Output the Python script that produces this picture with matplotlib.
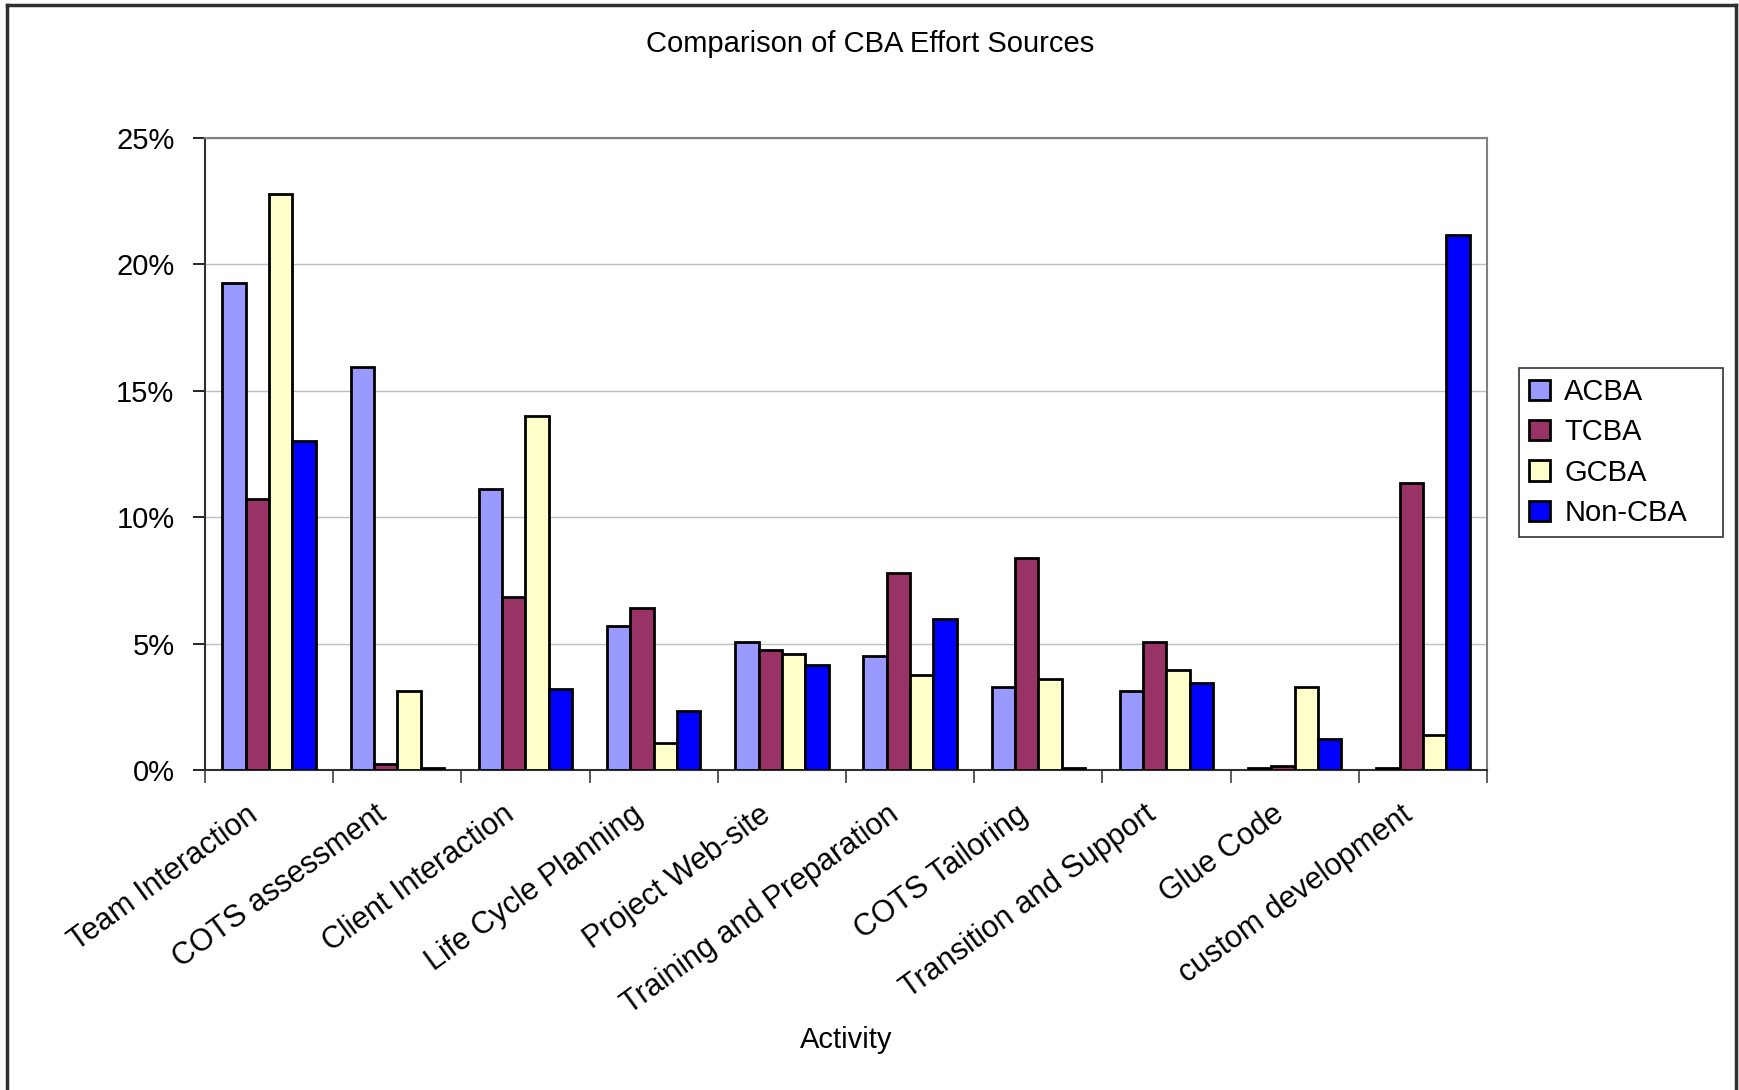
import numpy as np
import matplotlib
matplotlib.use("Agg")
import matplotlib.pyplot as plt
from matplotlib.lines import Line2D
from matplotlib.ticker import FuncFormatter
from matplotlib.transforms import ScaledTranslation

plt.rcParams["font.family"] = ["Liberation Sans", "DejaVu Sans"]

# ---------------------------------
# Effort share per activity (%)
# ---------------------------------
activities = [
    "Team Interaction", "COTS assessment", "Client Interaction",
    "Life Cycle Planning", "Project Web-site", "Training and Preparation",
    "COTS Tailoring", "Transition and Support", "Glue Code",
    "custom development",
]
acba = [19.25, 15.93, 11.13, 5.68, 5.08, 4.51, 3.29, 3.12, 0.08, 0.08]
tcba = [10.72, 0.22, 6.83, 6.42, 4.76, 7.79, 8.37, 5.08, 0.16, 11.36]
gcba = [22.78, 3.12, 14.02, 1.06, 4.59, 3.76, 3.61, 3.94, 3.29, 1.39]
noncba = [13.02, 0.08, 3.20, 2.34, 4.17, 5.99, 0.08, 3.43, 1.22, 21.18]

series = ["ACBA", "TCBA", "GCBA", "Non-CBA"]
colors = ["#9999FF", "#993366", "#FFFFCC", "#0000FF"]

fig = plt.figure(figsize=(17.4, 10.9), dpi=100)
ax = fig.add_axes([0.1178, 0.2936, 0.7368, 0.5798])

x = np.arange(len(activities))
width = 1 / 5.5  # 150% gap between groups
for j, (name, vals, col) in enumerate(zip(series, [acba, tcba, gcba, noncba], colors)):
    ax.bar(x + (j - 1.5) * width, vals, width, color=col, edgecolor="black",
           linewidth=2.0, label=name, zorder=3)

ax.set_xlim(-0.5, len(activities) - 0.5)
ax.set_ylim(0, 25)
ax.set_yticks(np.arange(0, 26, 5))
ax.yaxis.set_major_formatter(FuncFormatter(lambda v, p: f"{v:.0f}%"))
ax.grid(axis="y", color="#BFBFBF", linewidth=1.0, zorder=0)
ax.tick_params(axis="y", length=9, width=1.2, pad=13, labelsize=21, colors="black")

# category boundaries get the tick marks, labels sit at group centres
ax.set_xticks(np.arange(-0.5, len(activities)), minor=True)
ax.tick_params(axis="x", which="minor", length=9, width=1.2, color="#404040")
ax.set_xticks(x)
ax.set_xticklabels(activities, rotation=36, ha="right", va="center",
                   rotation_mode="anchor", fontsize=22)
ax.tick_params(axis="x", which="major", length=0, pad=30)
shift = ScaledTranslation(-0.14, 0, fig.dpi_scale_trans)
for lbl in ax.get_xticklabels():
    lbl.set_transform(lbl.get_transform() + shift)

for side in ["top", "right"]:
    ax.spines[side].set_color("#808080")
    ax.spines[side].set_linewidth(1.5)
for side in ["left", "bottom"]:
    ax.spines[side].set_color("#303030")
    ax.spines[side].set_linewidth(1.5)

ax.set_xlabel("Activity", fontsize=21)
ax.xaxis.set_label_coords(0.5, -0.405)
fig.text(0.5, 0.96, "Comparison of CBA Effort Sources", ha="center", va="center",
         fontsize=21)

leg = ax.legend(loc="center left", bbox_to_anchor=(1.025, 0.37, 0.159, 0.2645),
                mode="expand", fontsize=21, frameon=True, fancybox=False,
                edgecolor="black", handlelength=0.7, handleheight=0.7,
                handletextpad=0.5, labelspacing=0.42, borderpad=0.35,
                borderaxespad=0)
leg.get_frame().set_linewidth(1.2)

# outer chart frame
fig.add_artist(Line2D([0.004, 0.004], [0, 0.9955], color="#303030", lw=2.5,
                      transform=fig.transFigure))
fig.add_artist(Line2D([0.004, 0.9975], [0.9955, 0.9955], color="#303030", lw=2.5,
                      transform=fig.transFigure))
fig.add_artist(Line2D([0.9975, 0.9975], [0, 0.9955], color="#303030", lw=2.5,
                      transform=fig.transFigure))

fig.savefig("out.png", dpi=100)
